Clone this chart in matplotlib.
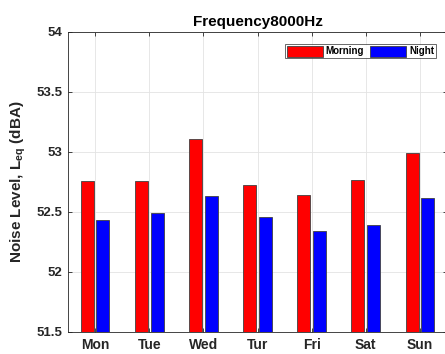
import numpy as np
import matplotlib
matplotlib.use("Agg")
import matplotlib.pyplot as plt

plt.rcParams['font.family'] = ['Liberation Sans', 'DejaVu Sans']
plt.rcParams['mathtext.fontset'] = 'custom'
plt.rcParams['mathtext.rm'] = 'Liberation Sans:bold'
plt.rcParams['mathtext.it'] = 'Liberation Sans:bold'
plt.rcParams['mathtext.bf'] = 'Liberation Sans:bold'

# ── data ──────────────────────────────────────────────────────────────────────
days    = ["Mon", "Tue", "Wed", "Tur", "Fri", "Sat", "Sun"]
morning = [52.76, 52.76, 53.11, 52.725, 52.64, 52.77, 52.99]
night   = [52.43, 52.49, 52.63, 52.455, 52.34, 52.39, 52.62]
yticks  = [51.5, 52, 52.5, 53, 53.5, 54]
ytick_labels = ["51.5", "52", "52.5", "53", "53.5", "54"]

# ── figure ────────────────────────────────────────────────────────────────────
fig = plt.figure(figsize=(4.45, 3.54), dpi=100)
ax = fig.add_axes([68/445, 1 - 332/354, 379/445, 300/354])

x = np.arange(1, len(days) + 1)
w = 0.24
ax.bar(x - 0.145, morning, w, color="#ff0000", edgecolor="#404040", lw=0.6,
       label="Morning", zorder=3)
ax.bar(x + 0.145, night, w, color="#0000ff", edgecolor="#404040", lw=0.6,
       label="Night", zorder=3)

ax.set_xlim(0.5, 7.5)
ax.set_ylim(51.5, 54)
ax.set_xticks(x)
ax.set_xticklabels(days, fontsize=10, fontweight="bold", color="#262626")
ax.set_yticks(yticks)
ax.set_yticklabels(ytick_labels, fontsize=9.5, fontweight="bold", color="#262626")
ax.tick_params(direction="in", length=3, width=0.6, color="#262626", pad=4)
ax.tick_params(top=True, right=True)
ax.grid(True, color="#e3e3e3", lw=0.6, zorder=0)
for s in ax.spines.values():
    s.set_color("#262626")
    s.set_linewidth(0.6)

ax.set_title("Frequency8000Hz", fontsize=11, fontweight="bold", pad=4)
ax.set_ylabel(r"Noise Level, L$_{\mathrm{eq}}$ (dBA)", fontsize=11,
              fontweight="bold", color="#262626", labelpad=6)

leg = ax.legend(loc="upper right", ncol=2, prop={"weight": "bold", "size": 7},
                handlelength=3.7, handleheight=1.3, handletextpad=0.3,
                columnspacing=0.6, borderpad=0.2, fancybox=False,
                bbox_to_anchor=((436 - 68) / 379, 0.96), borderaxespad=0)
leg.get_frame().set_edgecolor("#262626")
leg.get_frame().set_linewidth(0.6)

fig.savefig("out.png", dpi=100)
